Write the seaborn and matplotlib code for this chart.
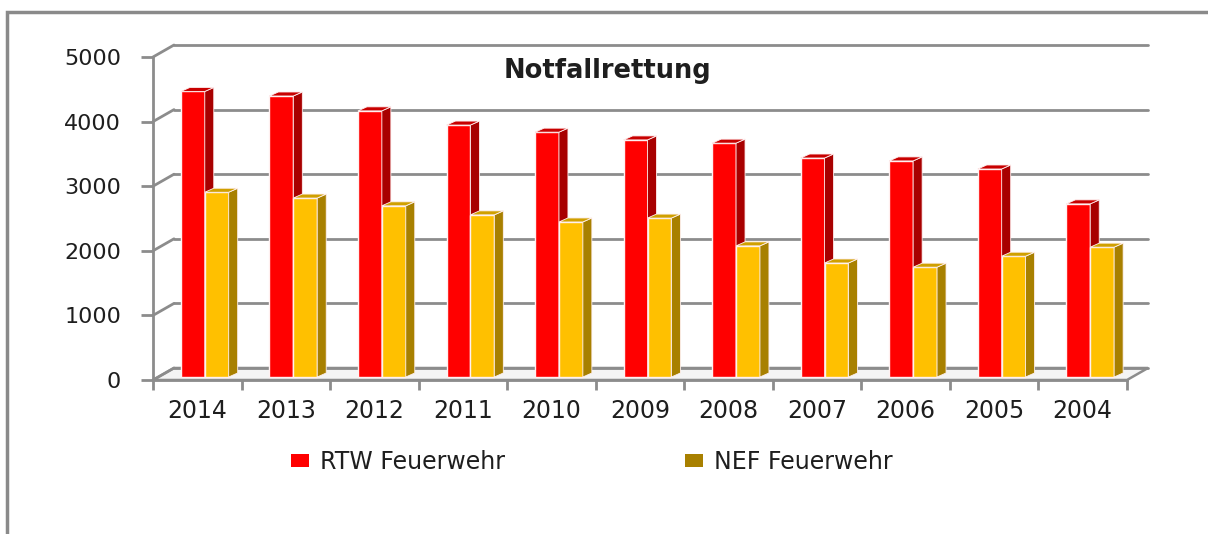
import numpy as np
import pandas as pd
import matplotlib
matplotlib.use("Agg")
import matplotlib.pyplot as plt
import seaborn as sns
from matplotlib.transforms import ScaledTranslation, IdentityTransform
from matplotlib.patches import Polygon, Rectangle, Patch
from matplotlib.lines import Line2D

# ---------------- data ----------------
years = ["2014", "2013", "2012", "2011", "2010", "2009", "2008", "2007", "2006", "2005", "2004"]
rtw_values = [4420, 4350, 4120, 3900, 3790, 3670, 3620, 3390, 3345, 3220, 2680]
nef_values = [2860, 2770, 2650, 2510, 2400, 2460, 2030, 1765, 1700, 1870, 2010]
series_names = ["RTW Feuerwehr", "NEF Feuerwehr"]
y_ticks = [0, 1000, 2000, 3000, 4000, 5000]
chart_title = "Notfallrettung"

# ---------------- style ----------------
front_cols = ["#FF0000", "#FFC000"]
side_cols = ["#A80000", "#A88000"]
top_cols = ["#C80000", "#D0A000"]
legend_cols = ["#FF0000", "#A88000"]
grid_col = "#8C8C8C"
text_col = "#1E1E1E"

W, H = 1208, 534
sns.set_theme(style="white")
plt.rcParams["font.family"] = ["DejaVu Sans"]

fig = plt.figure(figsize=(W / 100, H / 100), dpi=100)
fig.patch.set_facecolor("white")

# front plane of the 3D axes
L, R, B, T = 153, 1127, 380, 57
ax = fig.add_axes([L / W, 1 - B / H, (R - L) / W, (B - T) / H])
ax.set_facecolor("none")

df = pd.DataFrame({
    "Jahr": years * 2,
    "Einsaetze": rtw_values + nef_values,
    "Serie": [series_names[0]] * len(years) + [series_names[1]] * len(years),
})
sns.barplot(data=df, x="Jahr", y="Einsaetze", hue="Serie", hue_order=series_names,
            palette=front_cols, width=0.54, ax=ax, legend=False,
            edgecolor="#FFF0F0", linewidth=1.0, saturation=1)

ax.set_xlim(-0.5, len(years) - 0.5)
ax.set_ylim(0, 5000)
ax.autoscale(False)
ax.set_yticks(y_ticks)
ax.set_xlabel("")
ax.set_ylabel("")

# spines / ticks
for s in ["top", "right"]:
    ax.spines[s].set_visible(False)
for s in ["left", "bottom"]:
    ax.spines[s].set_color(grid_col)
    ax.spines[s].set_linewidth(2)
ax.tick_params(axis="y", which="major", direction="out", length=9, width=2,
               color=grid_col, labelsize=16, labelcolor=text_col, pad=14, left=True)
ax.set_xticks(np.arange(-0.5, len(years)), minor=True)
ax.tick_params(axis="x", which="minor", direction="out", length=7, width=2,
               color=grid_col, bottom=True)
ax.tick_params(axis="x", which="major", length=0, labelsize=17,
               labelcolor=text_col, pad=14)

idT = IdentityTransform()

def px(x, y):
    return ax.transData.transform((x, y))

# 3D back-wall offsets (pixels, y up)
BX, BY = 21, 12
# bar depth/offset
SX, SY = 7.5, 3
DX, DY = 9, 4

# floor
fl = px(-0.5, 0); fr = px(len(years) - 0.5, 0)
floor = Polygon([fl, fr, (fr[0] + BX, fr[1] + BY), (fl[0] + BX, fl[1] + BY)],
                closed=True, facecolor="#F4F4F4", edgecolor=grid_col, lw=1.8,
                transform=idT, clip_on=False, zorder=0.5)
ax.add_patch(floor)

# back-wall gridlines and left diagonals
for v in y_ticks:
    a = px(-0.5, v); b = px(len(years) - 0.5, v)
    ax.add_line(Line2D([a[0] + BX, b[0] + BX], [a[1] + BY, b[1] + BY], color=grid_col,
                       lw=2, transform=idT, clip_on=False, zorder=0.6))
    ax.add_line(Line2D([a[0], a[0] + BX], [a[1], a[1] + BY], color=grid_col,
                       lw=2, transform=idT, clip_on=False, zorder=0.6))

# 3D bars
shift = ScaledTranslation(SX / 100, SY / 100, fig.dpi_scale_trans)
n = len(years)
for i, bar in enumerate(ax.patches[: 2 * n]):
    k = i // n
    z = 3 + k
    bar.set_transform(ax.transData + shift)
    bar.set_zorder(z)
    x0, w, h = bar.get_x(), bar.get_width(), bar.get_height()
    p0 = px(x0, 0); p1 = px(x0 + w, h)
    x0p, y0p = p0[0] + SX, p0[1] + SY
    x1p, y1p = p1[0] + SX, p1[1] + SY
    side = Polygon([(x1p, y0p), (x1p + DX, y0p + DY), (x1p + DX, y1p + DY), (x1p, y1p)],
                   closed=True, facecolor=side_cols[k], edgecolor="#FFF0F0", lw=0.6,
                   transform=idT, clip_on=False, zorder=z)
    top = Polygon([(x0p, y1p), (x0p + DX, y1p + DY), (x1p + DX, y1p + DY), (x1p, y1p)],
                  closed=True, facecolor=top_cols[k], edgecolor="#FFF0F0", lw=0.6,
                  transform=idT, clip_on=False, zorder=z)
    ax.add_patch(side)
    ax.add_patch(top)

# title inside plot
fig.text(607 / W, 1 - 71 / H, chart_title, ha="center", va="center",
         fontsize=18.5, fontweight="bold", color=text_col)

# legend
handles = [Patch(facecolor=c, edgecolor="none") for c in legend_cols]
fig.legend(handles, series_names, loc="center", bbox_to_anchor=(592 / W, 1 - 462 / H),
           ncol=2, frameon=False, fontsize=17, handlelength=0.75, handleheight=0.45,
           handletextpad=0.5, columnspacing=7.6, labelcolor=text_col)

# outer frame
fig.add_artist(Rectangle((7 / W, -0.2), 1.5, 1.2 - 12 / H, transform=fig.transFigure,
                         fill=False, edgecolor="#8A8A8A", lw=2.5))

fig.savefig("out.png", dpi=100)
